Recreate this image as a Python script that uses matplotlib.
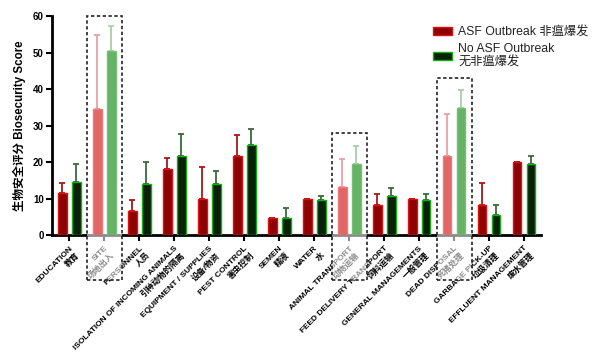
import numpy as np
import matplotlib
matplotlib.use("Agg")
import matplotlib.pyplot as plt
from matplotlib.patches import Rectangle

categories_en = ["EDUCATION", "SITE", "PERSONNEL", "ISOLATION OF INCOMING ANIMALS",
                 "EQUIPMENT / SUPPLIES", "PEST CONTROL", "SEMEN", "WATER",
                 "ANIMAL TRANSPORT", "FEED DELIVERY TRANSPORT", "GENERAL MANAGEMENTS",
                 "DEAD DISPOSAL", "GARBAGE PICK-UP", "EFFLUENT MANAGEMENT"]
categories_zh = ["教育", "场地出入", "人员", "引种动物的隔离", "设备/物资", "害虫控制",
                 "精液", "水", "动物运输", "饲料运输", "一般管理", "死猪处理",
                 "垃圾清理", "废水管理"]

asf_outbreak = [11.6, 34.6, 6.6, 18.1, 9.8, 21.6, 4.8, 9.8, 13.1, 8.3, 9.8, 21.6, 8.3, 19.9]
asf_err = [2.8, 20.3, 3.0, 3.0, 8.8, 5.7, 0.0, 0.0, 7.7, 3.0, 0.0, 11.6, 5.9, 0.0]
no_outbreak = [14.6, 50.4, 14.1, 21.7, 13.9, 24.8, 4.7, 9.6, 19.4, 10.6, 9.6, 34.8, 5.6, 19.5]
no_err = [4.9, 7.0, 5.9, 6.1, 3.7, 4.2, 2.6, 1.2, 5.1, 2.3, 1.7, 5.0, 2.7, 2.3]

highlight_idx = [1, 8, 11]
highlight_top = [60, 28, 43]

yticks = [0, 10, 20, 30, 40, 50, 60]

FAM = ["Liberation Sans", "Noto Sans CJK SC", "DejaVu Sans"]
plt.rcParams["font.family"] = FAM

fig = plt.figure(figsize=(6, 3.6), dpi=100)
ax = fig.add_axes([0.087, 0.347, 0.815, 0.608])

x = np.arange(len(categories_en))
w = 0.25
off = 0.2

RED_FILL, RED_EDGE, RED_ERR = "#8c0303", "#e01010", "#a81818"
GRN_FILL, GRN_EDGE, GRN_ERR = "#0b1f0b", "#10b010", "#3a6a3a"
LRED_FILL, LRED_EDGE, LRED_ERR = "#e36666", "#ec7a7a", "#eaa0a8"
LGRN_FILL, LGRN_EDGE, LGRN_ERR = "#66b266", "#74c074", "#a8d0a8"

hl = np.isin(x, highlight_idx)
red_fill = [LRED_FILL if h else RED_FILL for h in hl]
red_edge = [LRED_EDGE if h else RED_EDGE for h in hl]
grn_fill = [LGRN_FILL if h else GRN_FILL for h in hl]
grn_edge = [LGRN_EDGE if h else GRN_EDGE for h in hl]

asf = np.array(asf_outbreak)
no = np.array(no_outbreak)
ae = np.array(asf_err)
ne = np.array(no_err)

for mask, z in [(~hl, 3), (hl, 6)]:
    rc = RED_ERR if z == 3 else LRED_ERR
    gc = GRN_ERR if z == 3 else LGRN_ERR
    ax.errorbar(x[mask] - off, asf[mask], yerr=[np.zeros(mask.sum()), ae[mask]],
                fmt="none", ecolor=rc, elinewidth=1.3, capsize=2, capthick=1.3, zorder=z)
    ax.errorbar(x[mask] + off, no[mask], yerr=[np.zeros(mask.sum()), ne[mask]],
                fmt="none", ecolor=gc, elinewidth=1.3, capsize=2, capthick=1.3, zorder=z)

for i in range(len(x)):
    z = 6.5 if hl[i] else 3.5
    ax.bar(x[i] - off, asf[i], width=w, color=red_fill[i], edgecolor=red_edge[i],
           linewidth=1.0, zorder=z, label="ASF Outbreak 非瘟爆发" if i == 0 else None)
    ax.bar(x[i] + off, no[i], width=w, color=grn_fill[i], edgecolor=grn_edge[i],
           linewidth=1.0, zorder=z, label="No ASF Outbreak\n无非瘟爆发" if i == 0 else None)

ax.set_xlim(-0.49, len(x) - 0.51)
ax.set_ylim(0, 60)
ax.set_yticks(yticks)
ax.set_yticklabels([str(v) for v in yticks], fontsize=7, fontweight="bold")
ax.set_xticks(x)
ax.set_xticklabels([f"{e}\n{c}" for e, c in zip(categories_en, categories_zh)],
                   rotation=45, ha="right", va="top", rotation_mode="anchor",
                   fontsize=6.0, fontweight="bold", linespacing=1.3)
ax.tick_params(axis="both", width=1.5, length=4, pad=2)
ax.tick_params(axis="x", pad=3)
for s in ["top", "right"]:
    ax.spines[s].set_visible(False)
for s in ["left", "bottom"]:
    ax.spines[s].set_linewidth(2)

ax.set_ylabel("生物安全评分 Biosecurity Score", fontsize=8.3, fontweight="bold", labelpad=5)

# highlight boxes (dashed, translucent white)
for gi, top in zip(highlight_idx, highlight_top):
    bottom = -12.3
    ax.add_patch(Rectangle((gi - 0.5, bottom), 1.0, top - bottom, facecolor="white",
                           alpha=0.55, edgecolor="none", clip_on=False, zorder=5))
    ax.add_patch(Rectangle((gi - 0.5, bottom), 1.0, top - bottom, facecolor="none",
                           edgecolor="#222222", linestyle=(0, (2, 1.5)), linewidth=1.2,
                           clip_on=False, zorder=7))

leg = ax.legend(loc="upper left", bbox_to_anchor=(0.707, 0.95),
                bbox_transform=fig.transFigure, frameon=False, fontsize=8.8,
                handlelength=1.6, handleheight=0.6, handletextpad=0.5,
                labelspacing=0.35, borderpad=0.2)
for t in leg.get_texts():
    t.set_color("#222222")

fig.savefig("out.png", dpi=100)
